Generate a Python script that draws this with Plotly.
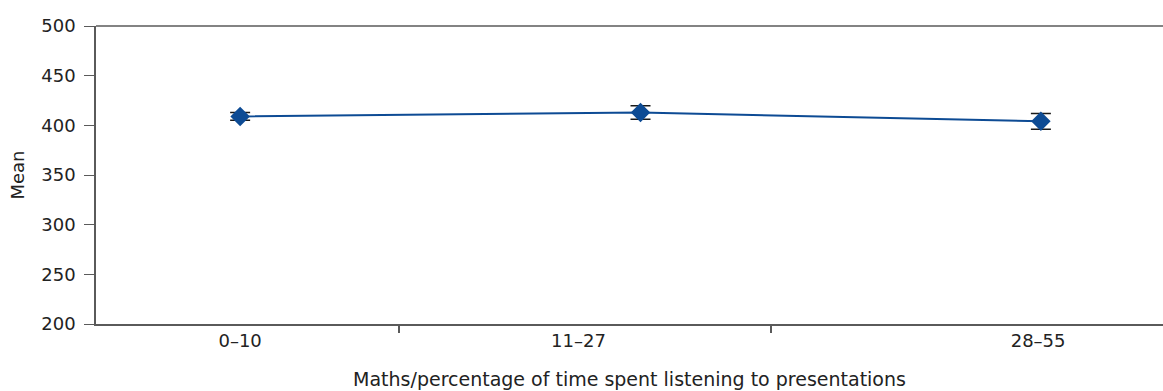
import plotly.graph_objects as go

categories = ["0–10", "11–27", "28–55"]
means = [409, 413, 404]
errors = [3.8, 6.8, 7.9]
y_ticks = [200, 250, 300, 350, 400, 450, 500]

# layout constants (positions of tick labels / tick marks on the index axis)
label_pos = [0, 0.845, 1.993]
tick_pos = [0.3975, 1.325]
x_range = [-0.36, 2.305]

x_idx = list(range(len(categories)))

font = "DejaVu Sans, sans-serif"
axis_color = "#5a5a5a"

fig = go.Figure()
fig.add_trace(go.Scatter(
    x=x_idx, y=means,
    mode="lines+markers",
    line=dict(color="#0d4b94", width=2),
    marker=dict(symbol="diamond", size=15, color="#0d4b94"),
    error_y=dict(type="data", array=errors, visible=True,
                 color="#1a1a1a", thickness=1.5, width=10),
    showlegend=False,
))
# invisible trace to activate the tick-mark axis
fig.add_trace(go.Scatter(x=[x_range[0]], y=[means[0]], xaxis="x2",
                         mode="markers", marker=dict(opacity=0),
                         showlegend=False, hoverinfo="skip"))

# top frame line of the plot area
fig.add_shape(type="line", xref="paper", yref="paper", x0=0, x1=1, y0=1, y1=1,
              line=dict(color=axis_color, width=1.5))

fig.update_layout(
    width=1175, height=391,
    margin=dict(l=96, r=12, t=26, b=67),
    paper_bgcolor="white", plot_bgcolor="white",
    font=dict(family=font, size=18, color="#222222"),
    xaxis=dict(
        range=x_range, tickmode="array", tickvals=label_pos, ticktext=categories,
        ticks="", showgrid=False, zeroline=False, automargin=False,
        showline=True, linecolor=axis_color, linewidth=1.5, mirror=False,
        title=dict(text="Maths/percentage of time spent listening to presentations",
                   standoff=22, font=dict(size=19)),
        tickfont=dict(size=18),
    ),
    xaxis2=dict(
        range=x_range, overlaying="x", side="bottom", tickmode="array",
        tickvals=tick_pos, showticklabels=False, ticks="outside", ticklen=8,
        tickcolor=axis_color, tickwidth=1.5, showgrid=False, zeroline=False,
        showline=False, mirror=False, automargin=False,
    ),
    yaxis=dict(
        range=[200, 500], tickmode="array", tickvals=y_ticks,
        ticks="outside", ticklen=10, tickcolor=axis_color, tickwidth=1,
        ticklabelstandoff=5, automargin=False,
        showgrid=False, zeroline=False, mirror=False,
        showline=True, linecolor=axis_color, linewidth=1.5,
        title=dict(text="Mean", standoff=12, font=dict(size=18)),
        tickfont=dict(size=18),
    ),
)

fig.write_html("out.html", config={"displayModeBar": False},
               post_script="document.body.style.margin='0';document.body.style.overflow='hidden';")
